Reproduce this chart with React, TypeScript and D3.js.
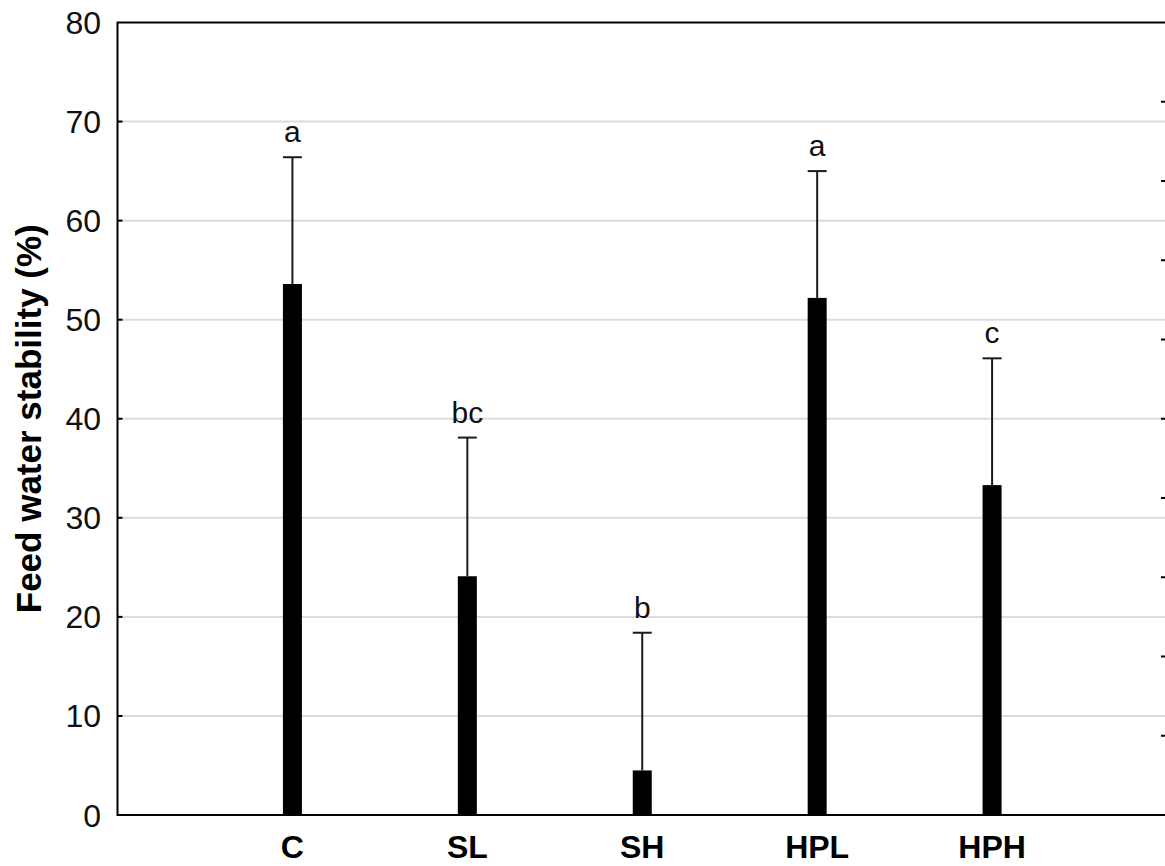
import React from 'react';
import * as d3 from 'd3';

// treatment groups and their mean / upper error values (%)
const categories = ['C', 'SL', 'SH', 'HPL', 'HPH'];
const means = [53.6, 24.1, 4.5, 52.2, 33.3];
const errorTops = [66.4, 38.1, 18.4, 65.0, 46.1];
const letters = ['a', 'bc', 'b', 'a', 'c'];
const yTicks = [0, 10, 20, 30, 40, 50, 60, 70, 80];
const rightTicks = [8, 16, 24, 32, 40, 48, 56, 64, 72];

const W = 1165;
const H = 866;
const font = '"Liberation Sans", Arial, sans-serif';

const App = () => {
  const left = 117.5;
  const right = 1167;
  const top = 22.5;
  const bottom = 815;

  const x = d3.scalePoint().domain(categories).range([left, right]).padding(1);
  const y = d3.scaleLinear().domain([0, 80]).range([bottom, top]);
  const barW = 19;

  return (
    <svg
      width={W}
      height={H}
      style={{ position: 'absolute', left: 0, top: 0, background: '#fff' }}
    >
      {/* gridlines */}
      {yTicks.filter(t => t > 0 && t < 80).map(t => (
        <line key={'g' + t} x1={left} x2={right} y1={y(t)} y2={y(t)} stroke="#dcdcdc" strokeWidth={2} />
      ))}

      {/* bars */}
      {categories.map((c, i) => (
        <rect
          key={'b' + c}
          x={x(c)! - barW / 2}
          y={y(means[i])}
          width={barW}
          height={y(0) - y(means[i])}
          fill="#000"
        />
      ))}

      {/* error bars */}
      {categories.map((c, i) => (
        <g key={'e' + c} stroke="#1a1a1a" strokeWidth={2}>
          <line x1={x(c)} x2={x(c)} y1={y(means[i])} y2={y(errorTops[i])} />
          <line x1={x(c)! - barW / 2} x2={x(c)! + barW / 2} y1={y(errorTops[i])} y2={y(errorTops[i])} />
        </g>
      ))}

      {/* significance letters */}
      {categories.map((c, i) => (
        <text
          key={'l' + c}
          x={x(c)}
          y={y(errorTops[i]) - 15}
          textAnchor="middle"
          fontFamily={font}
          fontSize={30}
          fill="#111"
        >
          {letters[i]}
        </text>
      ))}

      {/* frame */}
      <path
        d={`M${right},${top}H${left}V${bottom}H${right}`}
        fill="none"
        stroke="#000"
        strokeWidth={2}
      />
      <line x1={right} x2={right} y1={top} y2={bottom} stroke="#000" strokeWidth={2} />

      {/* left ticks + labels */}
      {yTicks.map(t => (
        <g key={'t' + t}>
          {t > 0 && t < 80 && (
            <line x1={left} x2={left + 5} y1={y(t)} y2={y(t)} stroke="#000" strokeWidth={2} />
          )}
          <text
            x={101}
            y={y(t)}
            dy="0.36em"
            textAnchor="end"
            fontFamily={font}
            fontSize={32}
            fill="#111"
          >
            {t}
          </text>
        </g>
      ))}

      {/* right ticks */}
      {rightTicks.map(t => (
        <line key={'r' + t} x1={right - 6} x2={right} y1={y(t)} y2={y(t)} stroke="#000" strokeWidth={2} />
      ))}

      {/* category labels */}
      {categories.map(c => (
        <text
          key={'c' + c}
          x={x(c)}
          y={858}
          textAnchor="middle"
          fontFamily={font}
          fontSize={32}
          fontWeight="bold"
          fill="#000"
        >
          {c}
        </text>
      ))}

      {/* y axis title */}
      <text
        transform={`translate(41,${(top + bottom) / 2}) rotate(-90)`}
        textAnchor="middle"
        fontFamily={font}
        fontSize={35}
        fontWeight="bold"
        fill="#000"
      >
        Feed water stability (%)
      </text>
    </svg>
  );
};

export default App;
